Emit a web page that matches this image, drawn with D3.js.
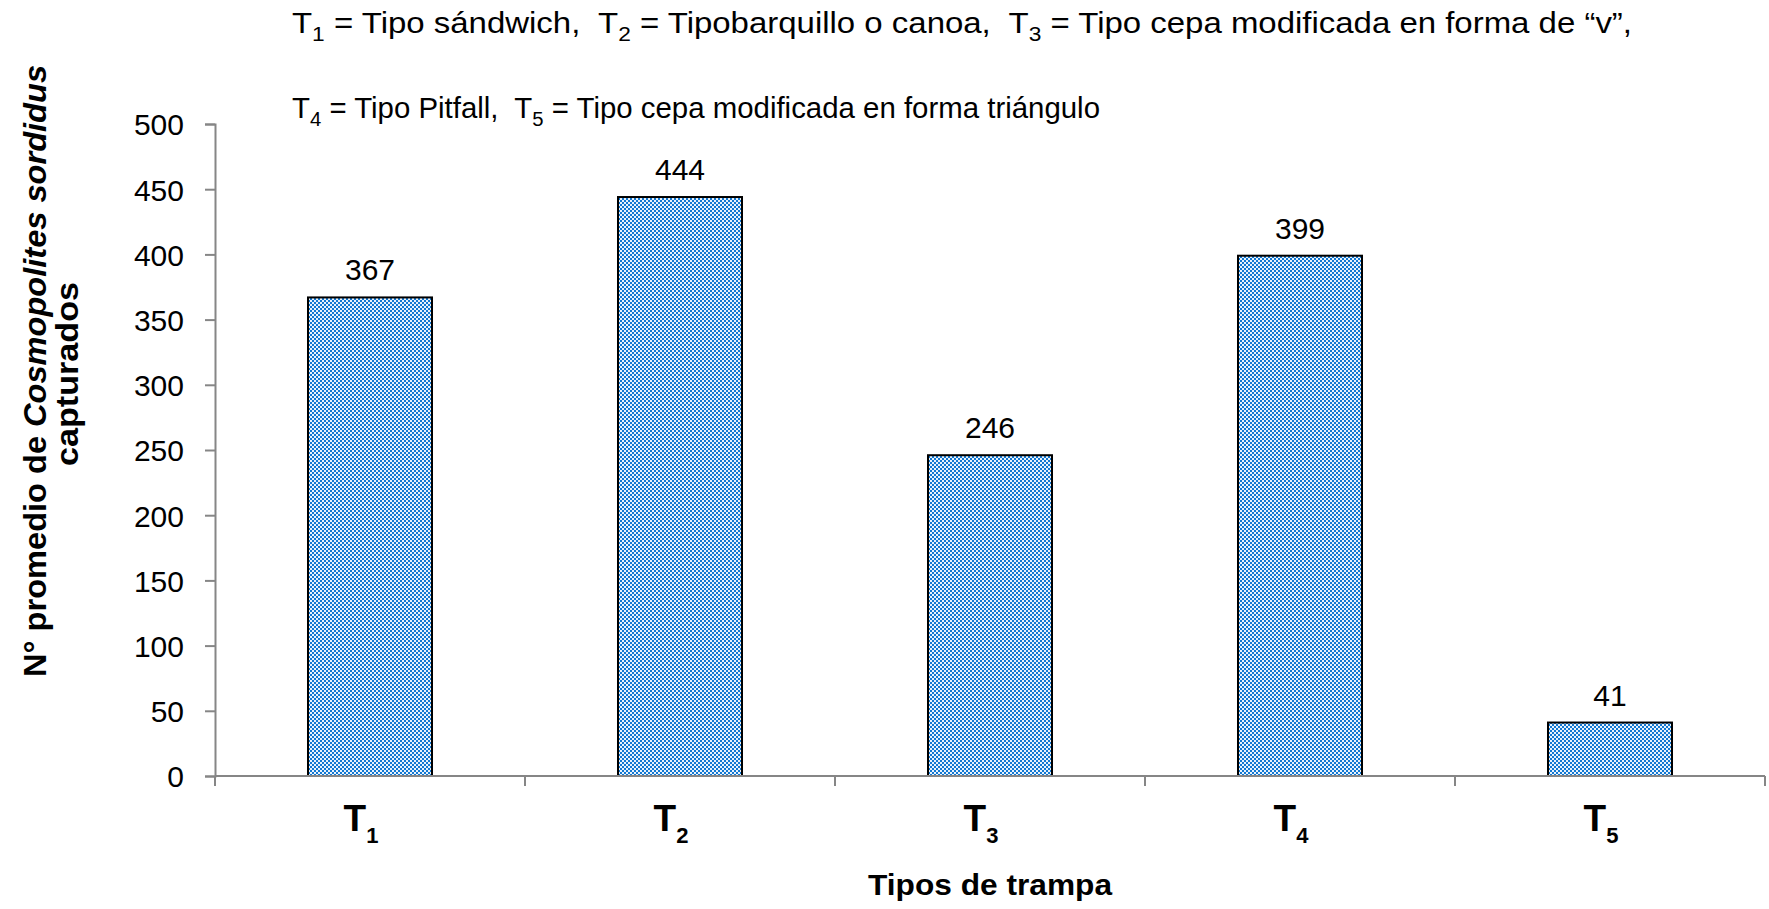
<!DOCTYPE html>
<html>
<head>
<meta charset="utf-8">
<script src="https://cdn.jsdelivr.net/npm/d3@7"></script>
<style>
  body { margin: 0; background: #fff; }
  svg { display: block; font-family: "Liberation Sans", Arial, sans-serif; }
</style>
</head>
<body>
<svg id="chart" width="1769" height="909"></svg>
<script>
// data
var traps = ["1", "2", "3", "4", "5"];          // subscripts of T
var captured = [367, 444, 246, 399, 41];
var yTicks = [0, 50, 100, 150, 200, 250, 300, 350, 400, 450, 500];
var legendLine1 = [["T", "1", " = Tipo sándwich,  "], ["T", "2", " = Tipobarquillo o canoa,  "], ["T", "3", " = Tipo cepa modificada en forma de “v”,"]];
var legendLine2 = [["T", "4", " = Tipo Pitfall,  "], ["T", "5", " = Tipo cepa modificada en forma triángulo"]];

var svg = d3.select("#chart");
var plotLeft = 215, plotRight = 1765, plotTop = 124, plotBottom = 776;

var x = d3.scaleBand().domain(traps).range([plotLeft, plotRight]).paddingInner(0.6).paddingOuter(0.3);
var y = d3.scaleLinear().domain([0, 500]).range([plotBottom, plotTop]);

// checkered fill like the original
var defs = svg.append("defs");
var pat = defs.append("pattern")
    .attr("id", "check")
    .attr("patternUnits", "userSpaceOnUse")
    .attr("width", 4).attr("height", 4);
pat.append("rect").attr("width", 4).attr("height", 4).attr("fill", "#e8f2fc");
pat.append("rect").attr("width", 2).attr("height", 2).attr("fill", "#1278d2");
pat.append("rect").attr("x", 2).attr("y", 2).attr("width", 2).attr("height", 2).attr("fill", "#1278d2");

// bars
svg.selectAll("rect.bar")
    .data(captured)
    .enter().append("rect")
    .attr("class", "bar")
    .attr("x", function(d, i){ return x(traps[i]); })
    .attr("y", function(d){ return y(d); })
    .attr("width", x.bandwidth())
    .attr("height", function(d){ return y(0) - y(d); })
    .attr("fill", "url(#check)")
    .attr("stroke", "#000")
    .attr("stroke-width", 2);

// value labels
svg.selectAll("text.val")
    .data(captured)
    .enter().append("text")
    .attr("class", "val")
    .attr("x", function(d, i){ return x(traps[i]) + x.bandwidth()/2; })
    .attr("y", function(d){ return y(d) - 17; })
    .attr("text-anchor", "middle")
    .attr("font-size", 30)
    .text(function(d){ return d; });

// y axis
var yAxis = d3.axisLeft(y).tickValues(yTicks).tickSize(10).tickPadding(21);
var gy = svg.append("g").attr("transform", "translate(" + plotLeft + ",0)").call(yAxis);
gy.selectAll("text").attr("font-size", 30).attr("font-family", "Liberation Sans, Arial, sans-serif").attr("fill", "#000").attr("dy", "0.36em");
gy.selectAll("line, path").attr("stroke", "#868686").attr("stroke-width", 2);

// x axis: ticks at the category boundaries
var bounds = d3.range(traps.length + 1).map(function(i){ return plotLeft + i * (plotRight - plotLeft) / traps.length; });
var gx = svg.append("g");
gx.append("line").attr("x1", plotLeft).attr("x2", plotRight).attr("y1", plotBottom).attr("y2", plotBottom)
    .attr("stroke", "#868686").attr("stroke-width", 2);
gx.selectAll("line.tk").data(bounds).enter().append("line")
    .attr("class", "tk")
    .attr("x1", function(d){ return d; }).attr("x2", function(d){ return d; })
    .attr("y1", plotBottom).attr("y2", plotBottom + 10)
    .attr("stroke", "#868686").attr("stroke-width", 2);

var xl = gx.selectAll("text.cat").data(traps).enter().append("text")
    .attr("class", "cat")
    .attr("x", function(d){ return x(d) + x.bandwidth()/2 - 9; })
    .attr("y", 831)
    .attr("text-anchor", "middle")
    .attr("font-weight", "bold")
    .attr("font-size", 37);
xl.append("tspan").text("T");
xl.append("tspan").attr("font-size", 22).attr("dy", 12).text(function(d){ return d; });

// axis titles
svg.append("text")
    .attr("x", (plotLeft + plotRight) / 2).attr("y", 895)
    .attr("text-anchor", "middle")
    .attr("font-weight", "bold").attr("font-size", 29)
    .attr("textLength", 244).attr("lengthAdjust", "spacingAndGlyphs")
    .text("Tipos de trampa");

var yt = svg.append("text")
    .attr("transform", "translate(46,371) rotate(-90)")
    .attr("text-anchor", "middle")
    .attr("font-weight", "bold").attr("font-size", 31)
    .attr("textLength", 612).attr("lengthAdjust", "spacingAndGlyphs");
yt.append("tspan").text("N° promedio de ");
yt.append("tspan").attr("font-style", "italic").text("Cosmopolites sordidus");
svg.append("text")
    .attr("transform", "translate(78,374) rotate(-90)")
    .attr("text-anchor", "middle")
    .attr("font-weight", "bold").attr("font-size", 31)
    .attr("textLength", 184).attr("lengthAdjust", "spacingAndGlyphs")
    .text("capturados");

// legend note at the top
function legendLine(parts, yy, len) {
    var t = svg.append("text")
        .attr("x", 292).attr("y", yy)
        .attr("font-size", 29)
        .attr("textLength", len)
        .attr("lengthAdjust", "spacingAndGlyphs")
        .style("white-space", "pre");
    parts.forEach(function(p){
        t.append("tspan").text(p[0]);
        t.append("tspan").attr("font-size", 20).attr("dy", 8).text(p[1]);
        t.append("tspan").attr("dy", -8).text(p[2]);
    });
    return t;
}
legendLine(legendLine1, 33, 1340);
legendLine(legendLine2, 118, 808);
</script>
</body>
</html>
